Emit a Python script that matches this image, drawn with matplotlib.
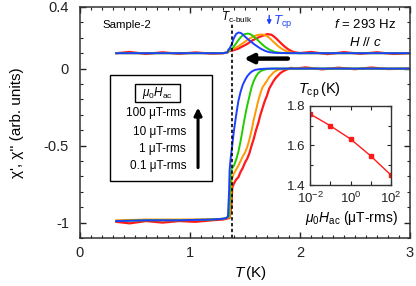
import matplotlib
matplotlib.use("Agg")
import matplotlib.pyplot as plt
from matplotlib.patches import Rectangle
from matplotlib.ticker import FixedLocator, MultipleLocator, NullFormatter, FixedFormatter

plt.rcParams['font.family'] = ['Liberation Sans', 'DejaVu Sans']
plt.rcParams['mathtext.fontset'] = 'custom'
plt.rcParams['mathtext.rm'] = 'Liberation Sans'
plt.rcParams['mathtext.it'] = 'Liberation Sans:italic'
plt.rcParams['mathtext.bf'] = 'Liberation Sans:bold'

# ---------------- data ----------------
# chi' (real part) for each ac field amplitude
T_re_blue = [0.33, 0.6, 0.9, 1.2, 1.30, 1.33, 1.345, 1.355, 1.36, 1.37, 1.38, 1.40, 1.42, 1.44, 1.46, 1.48, 1.50,
             1.52, 1.54, 1.56, 1.58, 1.60, 1.64, 1.70, 2.0, 2.5, 3.0]
re_blue = [-0.99, -0.985, -0.985, -0.98, -0.975, -0.97, -0.96, -0.80, -0.66, -0.58, -0.52, -0.40, -0.30, -0.21,
           -0.15, -0.105, -0.075, -0.05, -0.033, -0.02, -0.012, -0.007, -0.003, 0.0, 0.0, 0.0, 0.0]

T_re_green = [0.33, 0.6, 0.9, 1.2, 1.30, 1.33, 1.355, 1.365, 1.37, 1.38, 1.40, 1.42, 1.44, 1.46, 1.48, 1.50, 1.52,
              1.54, 1.56, 1.58, 1.60, 1.62, 1.64, 1.66, 1.70, 1.75, 2.0, 2.5, 3.0]
re_green = [-0.99, -0.985, -0.985, -0.98, -0.975, -0.97, -0.96, -0.80, -0.69, -0.65, -0.63, -0.59, -0.54, -0.47,
            -0.39, -0.31, -0.24, -0.18, -0.12, -0.08, -0.05, -0.03, -0.018, -0.01, -0.003, 0.0, 0.0, 0.0, 0.0]

T_re_orange = [0.33, 0.6, 0.9, 1.2, 1.30, 1.33, 1.36, 1.37, 1.38, 1.40, 1.42, 1.44, 1.46, 1.48, 1.50, 1.52, 1.54,
               1.56, 1.58, 1.60, 1.62, 1.64, 1.66, 1.68, 1.70, 1.72, 1.74, 1.76, 1.78, 1.80, 1.84, 1.88, 2.0,
               2.5, 3.0]
re_orange = [-0.985, -0.98, -0.98, -0.978, -0.975, -0.97, -0.965, -0.85, -0.72, -0.68, -0.655, -0.63, -0.60,
             -0.57, -0.545, -0.51, -0.46, -0.40, -0.33, -0.27, -0.21, -0.16, -0.12, -0.10, -0.08, -0.055, -0.04,
             -0.025, -0.015, -0.008, -0.002, 0.0, 0.0, 0.0, 0.0]

T_re_red = [0.33, 0.45, 0.6, 0.75, 0.9, 1.05, 1.2, 1.30, 1.33, 1.36, 1.375, 1.385, 1.40, 1.42, 1.44, 1.46, 1.48,
            1.50, 1.52, 1.54, 1.56, 1.58, 1.60, 1.62, 1.64, 1.66, 1.68, 1.70, 1.72, 1.74, 1.76, 1.78, 1.80, 1.82,
            1.84, 1.86, 1.88, 1.92, 1.96, 2.05, 2.2, 2.35, 2.5, 2.65, 2.8, 3.0]
re_red = [-0.995, -1.005, -0.99, -1.0, -0.99, -0.995, -0.985, -0.98, -0.975, -0.97, -0.90, -0.77, -0.745, -0.72,
          -0.705, -0.67, -0.645, -0.61, -0.585, -0.55, -0.50, -0.455, -0.40, -0.355, -0.30, -0.255, -0.21, -0.175,
          -0.13, -0.105, -0.08, -0.06, -0.045, -0.03, -0.02, -0.012, -0.006, 0.005, 0.0, 0.008, -0.005, 0.006,
          -0.004, 0.007, -0.003, 0.0]

# chi'' (imaginary part, offset by +0.1)
T_im_blue = [0.33, 1.30, 1.34, 1.35, 1.36, 1.38, 1.40, 1.42, 1.44, 1.46, 1.48, 1.50, 1.52, 1.54, 1.56, 1.58, 1.60,
             1.62, 1.64, 1.66, 1.68, 1.70, 1.72, 1.76, 1.80, 2.0, 3.0]
im_blue = [0.10, 0.10, 0.105, 0.125, 0.13, 0.16, 0.20, 0.225, 0.234, 0.232, 0.222, 0.208, 0.195, 0.183, 0.172,
           0.160, 0.150, 0.140, 0.131, 0.123, 0.116, 0.111, 0.107, 0.103, 0.101, 0.10, 0.10]

T_im_green = [0.33, 1.30, 1.34, 1.36, 1.38, 1.40, 1.42, 1.44, 1.46, 1.48, 1.50, 1.52, 1.54, 1.56, 1.58, 1.60, 1.62,
              1.64, 1.66, 1.68, 1.70, 1.72, 1.74, 1.76, 1.78, 1.82, 1.88, 3.0]
im_green = [0.10, 0.10, 0.105, 0.125, 0.13, 0.145, 0.165, 0.185, 0.203, 0.216, 0.224, 0.227, 0.226, 0.219, 0.208,
            0.195, 0.182, 0.168, 0.155, 0.143, 0.133, 0.124, 0.117, 0.111, 0.107, 0.103, 0.10, 0.10]

T_im_orange = [0.33, 1.30, 1.34, 1.36, 1.38, 1.40, 1.44, 1.48, 1.52, 1.56, 1.60, 1.62, 1.64, 1.66, 1.68, 1.70,
               1.72, 1.74, 1.76, 1.78, 1.80, 1.82, 1.84, 1.86, 1.88, 1.90, 1.94, 2.0, 3.0]
im_orange = [0.10, 0.10, 0.105, 0.12, 0.125, 0.13, 0.145, 0.165, 0.185, 0.203, 0.215, 0.219, 0.221, 0.221, 0.218,
             0.211, 0.200, 0.187, 0.173, 0.160, 0.147, 0.136, 0.126, 0.118, 0.112, 0.107, 0.102, 0.10, 0.10]

T_im_red = [0.33, 0.45, 0.6, 0.75, 0.9, 1.05, 1.2, 1.30, 1.34, 1.36, 1.40, 1.44, 1.48, 1.52, 1.56, 1.60, 1.64,
            1.68, 1.70, 1.72, 1.74, 1.76, 1.78, 1.80, 1.82, 1.84, 1.86, 1.88, 1.90, 1.92, 1.95, 2.0, 2.1, 2.25,
            2.4, 2.55, 2.7, 2.85, 3.0]
im_red = [0.10, 0.108, 0.095, 0.106, 0.096, 0.105, 0.097, 0.10, 0.105, 0.115, 0.12, 0.13, 0.145, 0.16, 0.18,
          0.195, 0.208, 0.218, 0.224, 0.222, 0.220, 0.210, 0.198, 0.184, 0.170, 0.156, 0.143, 0.132, 0.122,
          0.114, 0.106, 0.101, 0.108, 0.094, 0.107, 0.096, 0.106, 0.095, 0.10]

# inset: Tcp vs ac field
Hac = [0.01, 0.1, 1, 10, 100]
Tcp = [1.76, 1.70, 1.633, 1.547, 1.45]

legend_labels = ['100 μT-rms', '10 μT-rms', '1 μT-rms', '0.1 μT-rms']
T_c_bulk = 1.38

C_RED, C_ORANGE, C_GREEN, C_BLUE = '#ff1a1a', '#ff9900', '#22cc00', '#1f3fff'

# ---------------- figure ----------------
fig = plt.figure(figsize=(4.16, 2.86), dpi=100)
ax = fig.add_axes([80 / 416, 48 / 286, 330 / 416, 231 / 286])

lw = 1.4
ax.plot(T_re_red, re_red, color=C_RED, lw=lw + 0.2)
ax.plot(T_im_red, im_red, color=C_RED, lw=lw + 0.2)
ax.plot(T_re_orange, re_orange, color=C_ORANGE, lw=lw)
ax.plot(T_im_orange, im_orange, color=C_ORANGE, lw=lw)
ax.plot(T_re_green, re_green, color=C_GREEN, lw=lw)
ax.plot(T_im_green, im_green, color=C_GREEN, lw=lw)
ax.plot(T_re_blue, re_blue, color=C_BLUE, lw=lw)
ax.plot(T_im_blue, im_blue, color=C_BLUE, lw=lw)

ax.set_xlim(0, 3)
ax.set_ylim(-1.1, 0.4)

# dotted Tc-bulk line
ax.plot([T_c_bulk, T_c_bulk], [-1.1, 0.29], color='k', ls=(0, (2, 1.5)), lw=1.2)

ax.xaxis.set_major_locator(FixedLocator([0, 1, 2, 3]))
ax.xaxis.set_major_formatter(FixedFormatter(['0', '1', '2', '3']))
ax.xaxis.set_minor_locator(MultipleLocator(0.1))
ax.yaxis.set_major_locator(FixedLocator([-1, -0.5, 0, 0.4]))
ax.yaxis.set_major_formatter(FixedFormatter(['-1', '-0.5', '0', '0.4']))
ax.yaxis.set_minor_locator(MultipleLocator(0.1))
ax.tick_params(which='both', direction='in', top=True, right=True, labelsize=10.5, colors='#222222')
ax.tick_params(axis='x', which='major', length=4, width=1, pad=6)
ax.tick_params(axis='y', which='major', length=4, width=1, pad=8)
ax.tick_params(which='minor', length=2.5, width=0.8)
for s in ax.spines.values():
    s.set_linewidth(1.1)
    s.set_color('#333333')

ax.text(-0.19, 0.5, "χ', χ'' (arb. units)", fontsize=11, rotation=90, ha='center', va='center',
        transform=ax.transAxes)
ax.text(0.515, -0.152, r'$T\,$(K)', fontsize=11, ha='center', va='center', transform=ax.transAxes)

# annotations
ax.text(0.2, 0.286, 'Sample-2', fontsize=8.2, ha='left', va='center')
ax.text(1.285, 0.33, r'$T_{\rm c\text{-}bulk}$', fontsize=8.5, ha='left', va='center')
ax.annotate('', xy=(1.72, 0.285), xytext=(1.72, 0.345),
            arrowprops=dict(arrowstyle='-|>', lw=1.0, color=C_BLUE, mutation_scale=6,
                            shrinkA=0, shrinkB=0))
ax.text(1.755, 0.305, r'$T_{\rm cp}$', fontsize=9.5, color=C_BLUE, ha='left', va='center')
ax.text(2.87, 0.286, r'$f$ = 293 Hz', fontsize=9.5, ha='right', va='center')
ax.text(2.59, 0.169, r'$H$ // $c$', fontsize=9.5, ha='center', va='center')
ax.annotate('', xy=(1.49, 0.065), xytext=(1.89, 0.065),
            arrowprops=dict(arrowstyle='-|>', lw=3.2, color='k', mutation_scale=13,
                            shrinkA=0, shrinkB=0))

# legend-like box
ax.add_patch(Rectangle((0.273, -0.727), 1.2 - 0.273, 0.688, fill=True, facecolor='white',
                       edgecolor='k', lw=1.0, zorder=5))
ax.add_patch(Rectangle((0.50, -0.214), 0.41, 0.117, fill=False, edgecolor='k', lw=1.0, zorder=6))
ax.text(0.705, -0.156, r'$\mu_0H_{\rm ac}$', fontsize=8.5, ha='center', va='center', zorder=7)
for lab, yy in zip(legend_labels, [-0.286, -0.409, -0.519, -0.63]):
    ax.text(0.964, yy, lab, fontsize=8.5, ha='right', va='center', zorder=7)
ax.annotate('', xy=(1.073, -0.253), xytext=(1.073, -0.643),
            arrowprops=dict(arrowstyle='-|>', lw=2.2, color='k', mutation_scale=11,
                            shrinkA=0, shrinkB=0), zorder=7)

# inset labels
ax.text(1.98, -0.143, r'$T_{\rm cp}\,$(K)', fontsize=10.5, ha='left', va='center')
ax.text(2.47, -0.968, r'$\mu_0H_{\rm ac}$ (μT-rms)', fontsize=10, ha='center', va='center')

# ---------------- inset ----------------
axi = fig.add_axes([310 / 416, (286 - 185) / 286, 81 / 416, 79 / 286])
axi.plot(Hac, Tcp, color=C_RED, lw=1.0, marker='s', ms=3.5, mfc=C_RED, mec=C_RED)
axi.set_xscale('log')
axi.set_xlim(0.01, 100)
axi.set_ylim(1.4, 1.8)
axi.xaxis.set_major_locator(FixedLocator([0.01, 0.1, 1, 10, 100]))
axi.xaxis.set_major_formatter(FixedFormatter([r'$10^{-2}$', '', r'$10^{0}$', '', r'$10^{2}$']))
axi.xaxis.set_minor_formatter(NullFormatter())
axi.xaxis.set_minor_locator(FixedLocator([]))
axi.yaxis.set_major_locator(FixedLocator([1.4, 1.6, 1.8]))
axi.yaxis.set_major_formatter(FixedFormatter(['1.4', '1.6', '1.8']))
axi.yaxis.set_minor_locator(FixedLocator([1.5, 1.7]))
axi.tick_params(which='both', direction='in', top=True, right=True, labelsize=9.5, colors='#222222')
axi.tick_params(which='major', length=3, width=0.8)
axi.tick_params(which='minor', length=2, width=0.8)
axi.tick_params(axis='y', pad=3)
axi.tick_params(axis='x', pad=4)
for s in axi.spines.values():
    s.set_linewidth(1.0)
    s.set_color('#333333')

fig.savefig('out.png', dpi=100)
